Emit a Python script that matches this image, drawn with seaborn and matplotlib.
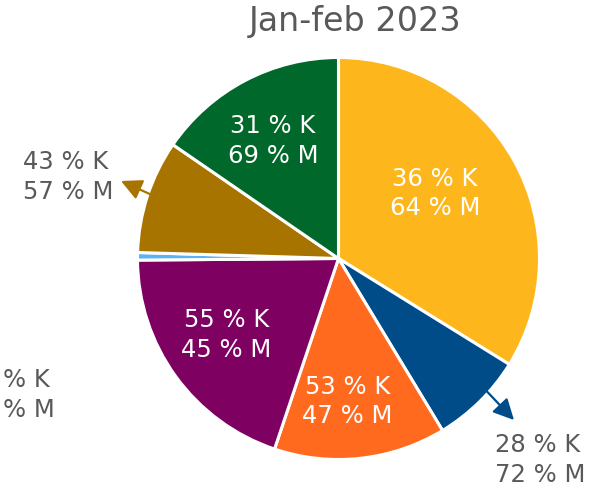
import matplotlib
matplotlib.use("Agg")
import matplotlib.pyplot as plt
import seaborn as sns

sns.set_theme(style="white")
plt.rcParams['font.family'] = ['DejaVu Sans']

title = "Jan-feb 2023"
shares = [33.8, 7.5, 13.8, 19.7, 0.6, 9.1, 15.4]
k_pct = [36, 28, 53, 55, None, 43, 31]
m_pct = [64, 72, 47, 45, None, 57, 69]
colors = ["#FDB71C", "#004C88", "#FF6A1F", "#7E0061", "#59B3F7", "#A87400", "#00682A"]

W, H = 595, 489
fig = plt.figure(figsize=(W / 100, H / 100), dpi=100)
ax = fig.add_axes([0, 0, 1, 1])

cx, cy, r = 338.5, H - 259.5, 201
ax.pie(shares, colors=colors, startangle=90, counterclock=False,
       center=(cx, cy), radius=r, frame=True,
       wedgeprops=dict(edgecolor="white", linewidth=2.2))
ax.set_xlim(0, W)
ax.set_ylim(0, H)
ax.set_aspect("equal")
ax.axis("off")

gray = "#595959"
fs = 17.5
ls = 1.27
def lab(i):
    return f"{k_pct[i]} % K\n{m_pct[i]} % M"

# inside labels (pixel coords, y from top)
inside = {0: (435, 193.5), 2: (347.5, 401.5), 3: (226.5, 335), 6: (273, 141)}
for i, (x, y) in inside.items():
    ax.text(x, H - y, lab(i), color="white", fontsize=fs, ha="center",
            va="center", linespacing=ls)

# outside labels with arrows
ax.text(23, H - 177, lab(5), color=gray, fontsize=fs, ha="left",
        va="center", linespacing=ls)
ax.annotate("", xy=(121, H - 182), xytext=(163, H - 201),
            arrowprops=dict(arrowstyle="-|>,head_length=0.6,head_width=0.3",
                            color=colors[5], lw=1.6,
                            mutation_scale=21, shrinkA=0, shrinkB=0))
ax.text(495, H - 460, lab(1), color=gray, fontsize=fs, ha="left",
        va="center", linespacing=ls)
ax.annotate("", xy=(514, H - 421), xytext=(478, H - 383),
            arrowprops=dict(arrowstyle="-|>,head_length=0.6,head_width=0.3",
                            color=colors[1], lw=1.6,
                            mutation_scale=21, shrinkA=0, shrinkB=0))
ax.text(3, H - 395, "% K\n% M", color=gray, fontsize=fs, ha="left",
        va="center", linespacing=ls)

fig.text(355 / W, 1 - 21 / H, title, color=gray, fontsize=24,
         ha="center", va="center")

fig.savefig("out.png", dpi=100)
